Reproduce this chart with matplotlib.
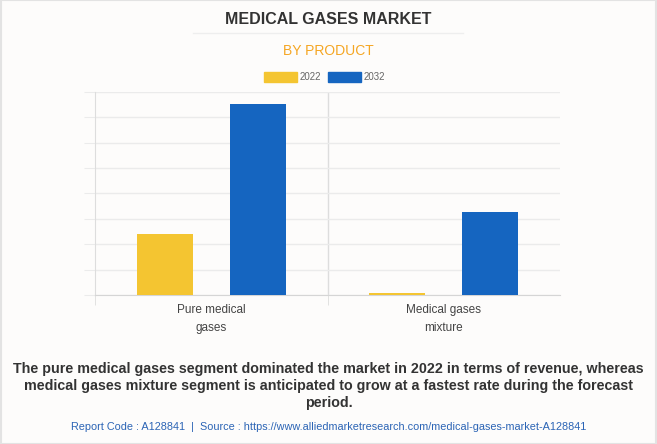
import numpy as np
import matplotlib.pyplot as plt
from matplotlib.patches import Rectangle

# data (in gridline units)
categories = ['Pure medical\ngases', 'Medical gases\nmixture']
years = ['2022', '2032']
values_2022 = [2.41, 0.10]
values_2032 = [7.52, 3.27]
colors = ['#F4C531', '#1565C0']

plt.rcParams['font.family'] = ['Liberation Sans', 'DejaVu Sans']

fig = plt.figure(figsize=(6.57, 4.44), dpi=100)
bg = '#FDFCFB'
fig.patch.set_facecolor(bg)
fig.patches.append(Rectangle((0.001, 0.001), 0.998, 0.998, transform=fig.transFigure,
                             fill=False, edgecolor='#E3E3E3', lw=1.5))

ax = fig.add_axes([95 / 657, 1 - 295.3 / 444, 465 / 657, 203.6 / 444])
ax.set_facecolor(bg)

x = np.arange(len(categories))
w = 0.24
ax.bar(x - 0.2, values_2022, w, color=colors[0], zorder=3)
ax.bar(x + 0.2, values_2032, w, color=colors[1], zorder=3)

ax.set_xlim(-0.5, 1.5)
ax.set_ylim(0, 8)
ax.set_yticks(np.arange(0, 9))
ax.yaxis.grid(True, color='#EBEBEB', lw=1, zorder=0)
ax.tick_params(axis='y', length=8, color='#EBEBEB', labelleft=False)
for s in ['top', 'right']:
    ax.spines[s].set_visible(False)
ax.spines['left'].set_color('#DDDDDD')
ax.spines['bottom'].set_color('#D5D5D5')
ax.axvline(0.5, color='#DDDDDD', lw=1, zorder=1)

ax.set_xticks(x)
ax.set_xticklabels(categories, fontsize=8.5, color='#444444', linespacing=1.7)
ax.tick_params(axis='x', length=0, pad=6)
ax.set_xticks([-0.5, 0.5], minor=True)
ax.tick_params(axis='x', which='minor', length=7, color='#DDDDDD')

# titles
title = fig.text(0.5, 1 - 19 / 444, 'MEDICAL GASES MARKET', ha='center', va='center',
                 fontsize=11.5, fontweight='bold', color='#333333')
fig.add_artist(plt.Line2D([193 / 657, 463 / 657], [1 - 33 / 444] * 2,
                          color='#EEEEEE', lw=1))
fig.text(0.5, 1 - 51 / 444, 'BY PRODUCT', ha='center', va='center',
         fontsize=10, color='#F5A623')

# legend
for i, (yr, c) in enumerate(zip(years, colors)):
    x0 = [264, 328][i]
    fig.patches.append(Rectangle((x0 / 657, 1 - 82 / 444), 33 / 657, 10 / 444,
                                 transform=fig.transFigure, color=c))
    fig.text((x0 + 36) / 657, 1 - 77 / 444, yr, ha='left', va='center',
             fontsize=7, color='#666666')

fig.text(0.5, 1 - 386 / 444,
         'The pure medical gases segment dominated the market in 2022 in terms of revenue, whereas\n'
         'medical gases mixture segment is anticipated to grow at a fastest rate during the forecast\n'
         'period.', ha='center', va='center', fontsize=10.3, fontweight='bold',
         color='#333333', linespacing=1.25)
fig.text(0.5, 1 - 427 / 444,
         'Report Code : A128841  |  Source : https://www.alliedmarketresearch.com/medical-gases-market-A128841',
         ha='center', va='center', fontsize=7.8, color='#2B64B5')

fig.savefig('out.png', dpi=100, facecolor=bg)
